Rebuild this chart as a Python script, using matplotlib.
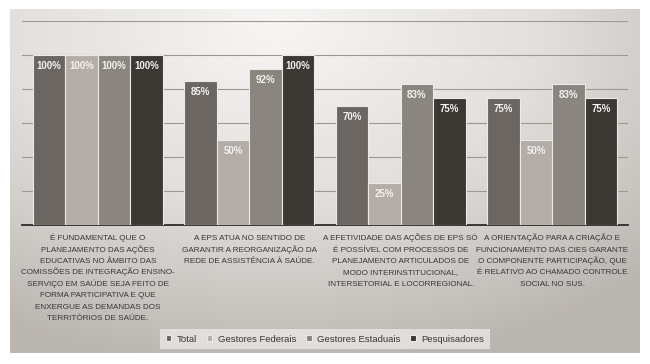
import numpy as np
import matplotlib.pyplot as plt
from matplotlib.colors import LinearSegmentedColormap

categorias = [
    "É FUNDAMENTAL QUE O\nPLANEJAMENTO DAS AÇÕES\nEDUCATIVAS NO ÂMBITO DAS\nCOMISSÕES DE INTEGRAÇÃO ENSINO-\nSERVIÇO EM SAÚDE SEJA FEITO DE\nFORMA PARTICIPATIVA E QUE\nENXERGUE AS DEMANDAS DOS\nTERRITÓRIOS DE SAÚDE.",
    "A EPS ATUA NO SENTIDO DE\nGARANTIR A REORGANIZAÇÃO DA\nREDE DE ASSISTÊNCIA À SAÚDE.",
    "A EFETIVIDADE DAS AÇÕES DE EPS SÓ\nÉ POSSÍVEL COM PROCESSOS DE\nPLANEJAMENTO ARTICULADOS DE\nMODO INTERINSTITUCIONAL,\nINTERSETORIAL E LOCORREGIONAL.",
    "A ORIENTAÇÃO PARA A CRIAÇÃO E\nFUNCIONAMENTO DAS CIES GARANTE\nO COMPONENTE PARTICIPAÇÃO, QUE\nÉ RELATIVO AO CHAMADO CONTROLE\nSOCIAL NO SUS.",
]
series = ["Total", "Gestores Federais", "Gestores Estaduais", "Pesquisadores"]
total = [100, 85, 70, 75]
gestores_federais = [100, 50, 25, 50]
gestores_estaduais = [100, 92, 83, 83]
pesquisadores = [100, 100, 75, 75]
valores = [total, gestores_federais, gestores_estaduais, pesquisadores]
cores = ["#6b6662", "#b3aca7", "#8b8580", "#3c3834"]

plt.rcParams['font.family'] = ['Liberation Sans Narrow', 'Liberation Sans', 'DejaVu Sans']

W, H = 650, 364
fig = plt.figure(figsize=(6.5, 3.64), dpi=100)
fig.patch.set_facecolor('white')

# painel de fundo com gradiente
bg = fig.add_axes([10 / W, (H - 353) / H, 630 / W, 344 / H], zorder=-2)
yy, xx = np.mgrid[0:1:200j, 0:1:400j]
d = np.sqrt(((xx - 0.42) / 0.85) ** 2 + ((yy - 0.05) / 1.0) ** 2)
cmap = LinearSegmentedColormap.from_list('bg', ['#f7f6f4', '#e2dfdc', '#bbb6b1'])
bg.imshow(d, cmap=cmap, aspect='auto', extent=[0, 1, 1, 0], vmin=0, vmax=1.0)
bg.axis('off')

ax = fig.add_axes([22 / W, (H - 225) / H, 606 / W, 204 / H])
ax.patch.set_alpha(0)
x = np.arange(len(categorias))
larg = 0.2145
for i, (nome, vals, cor) in enumerate(zip(series, valores, cores)):
    pos = x + (i - 1.5) * larg
    barras = ax.bar(pos, vals, larg, color=cor, edgecolor='#ece9e6',
                    linewidth=0.8, label=nome, zorder=3)
    for b, v in zip(barras, vals):
        ax.annotate(f"{v}%", (b.get_x() + b.get_width() / 2, v),
                    xytext=(0, -8), textcoords='offset points',
                    ha='center', va='center', color='#f4f2f0',
                    fontsize=7, fontweight='bold', zorder=4)

ax.set_xlim(-0.5, 3.5)
ax.set_ylim(0, 120)
ax.set_yticks(np.arange(20, 121, 20))
ax.yaxis.grid(True, color='#9e9893', linewidth=0.8, zorder=0)
ax.set_yticklabels([])
ax.tick_params(left=False, bottom=False, labelbottom=False)
for s in ['top', 'right', 'left']:
    ax.spines[s].set_visible(False)
ax.spines['bottom'].set_color('#2e2b28')
ax.spines['bottom'].set_linewidth(1.3)

# rótulos das categorias, linha a linha com espaçamento fixo
for i, cat in enumerate(categorias):
    for k, linha in enumerate(cat.split('\n')):
        ax.annotate(linha, (i, 0), xycoords=('data', 'axes fraction'),
                    xytext=(0, -11 - k * 8.2), textcoords='offset points',
                    ha='center', va='baseline', fontsize=5.9,
                    color='#3a3633')

leg = fig.legend(loc='center', bbox_to_anchor=(325 / W, 1 - 339 / H), ncol=4,
                 fontsize=6.8, frameon=True, handlelength=0.6, handleheight=0.6,
                 columnspacing=1.0, handletextpad=0.6, borderpad=0.6)
leg.get_frame().set_facecolor('#e9e7e5')
leg.get_frame().set_edgecolor('none')
leg.get_frame().set_boxstyle('square', pad=0)
for t in leg.get_texts():
    t.set_color('#3a3633')

fig.savefig('out.png', dpi=100)
